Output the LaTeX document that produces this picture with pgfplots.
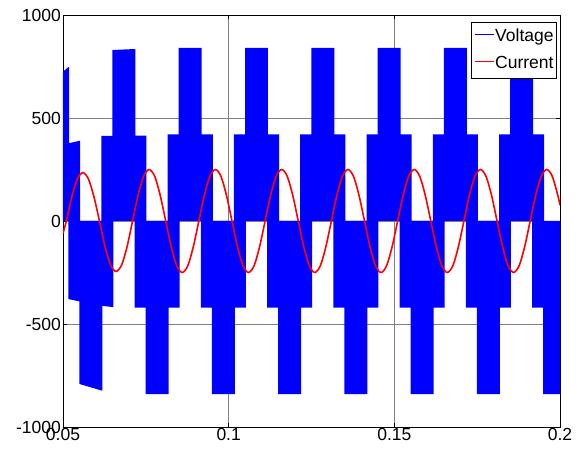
\documentclass[border=0pt]{standalone}
\usepackage{fontspec}
\setmainfont{Liberation Sans}
\usepackage{pgfplots}
\pgfplotsset{compat=1.18}

\begin{document}
\begin{tikzpicture}
\begin{axis}[
    scale only axis,
    width=497pt, height=412pt,
    xmin=0.05, xmax=0.2,
    ymin=-1000, ymax=1000,
    xtick={0.05,0.1,0.15,0.2},
    ytick={-1000,-500,0,500,1000},
    xticklabels={0.05,0.1,0.15,0.2},
    /pgf/number format/assume math mode=true,
    /pgf/number format/1000 sep={},
    tick label style={font=\fontsize{17.5}{20}\selectfont},
    xticklabel style={inner sep=0pt, yshift=-1pt},
    yticklabel style={inner sep=0pt, xshift=-2pt},
    tick align=inside,
    major tick length=4pt,
    tick style={black, line width=0.6pt},
    axis line style={black, line width=0.8pt},
    grid=major,
    major grid style={black!50, line width=0.5pt},
    legend style={
        at={(1,1)}, anchor=north east, xshift=-3pt, yshift=-7pt,
        font=\fontsize{17.5}{20}\selectfont,
        line width=0.8pt,
        inner xsep=1pt, inner ysep=1pt,
        nodes={inner xsep=2pt, inner ysep=5pt, text height=13pt, text depth=4pt},
    },
    legend cell align=left,
]
% voltage, positive half cycles (PWM band from 0 to the level)
\addplot[fill=blue, draw=none, forget plot]
coordinates {
(0.05,0) (0.05,725) (0.05187,750) (0.05187,378) (0.0552,390) (0.0552,0)
(0.0616,0) (0.0616,413) (0.06493,413) (0.06493,830) (0.07187,835) (0.07187,415) (0.0752,415) (0.0752,0)
(0.0816,0) (0.0816,420) (0.08493,420) (0.08493,840) (0.09187,840) (0.09187,420) (0.0952,420) (0.0952,0)
(0.1016,0) (0.1016,420) (0.10493,420) (0.10493,840) (0.11187,840) (0.11187,420) (0.1152,420) (0.1152,0)
(0.1216,0) (0.1216,420) (0.12493,420) (0.12493,840) (0.13187,840) (0.13187,420) (0.1352,420) (0.1352,0)
(0.1416,0) (0.1416,420) (0.14493,420) (0.14493,840) (0.15187,840) (0.15187,420) (0.1552,420) (0.1552,0)
(0.1616,0) (0.1616,420) (0.16493,420) (0.16493,840) (0.17187,840) (0.17187,420) (0.1752,420) (0.1752,0)
(0.1816,0) (0.1816,420) (0.18493,420) (0.18493,840) (0.19187,840) (0.19187,420) (0.1952,420) (0.1952,0)
};

% voltage, negative half cycles
\addplot[fill=blue, draw=none, forget plot]
coordinates {
(0.0516,0) (0.0516,-379) (0.05493,-390) (0.05493,-791) (0.06187,-824) (0.06187,-412) (0.0652,-418) (0.0652,0)
(0.0716,0) (0.0716,-420) (0.07493,-420) (0.07493,-840) (0.08187,-840) (0.08187,-420) (0.0852,-420) (0.0852,0)
(0.0916,0) (0.0916,-420) (0.09493,-420) (0.09493,-840) (0.10187,-840) (0.10187,-420) (0.1052,-420) (0.1052,0)
(0.1116,0) (0.1116,-420) (0.11493,-420) (0.11493,-840) (0.12187,-840) (0.12187,-420) (0.1252,-420) (0.1252,0)
(0.1316,0) (0.1316,-420) (0.13493,-420) (0.13493,-840) (0.14187,-840) (0.14187,-420) (0.1452,-420) (0.1452,0)
(0.1516,0) (0.1516,-420) (0.15493,-420) (0.15493,-840) (0.16187,-840) (0.16187,-420) (0.1652,-420) (0.1652,0)
(0.1716,0) (0.1716,-420) (0.17493,-420) (0.17493,-840) (0.18187,-840) (0.18187,-420) (0.1852,-420) (0.1852,0)
(0.1916,0) (0.1916,-420) (0.19493,-420) (0.19493,-840) (0.2,-840) (0.2,0)
};

% load current
\addplot[red, line width=1.6pt, smooth, forget plot]
table {
t I
0.05 -60
0.051 0
0.05267 118
0.05433 204
0.056 235
0.05767 204
0.05933 118
0.061 0
0.06267 -123
0.06433 -212
0.066 -245
0.06767 -214
0.06933 -125
0.071 0
0.07267 125
0.07433 217
0.076 250
0.07767 217
0.07933 125
0.081 0
0.08267 -125
0.08433 -217
0.086 -250
0.08767 -217
0.08933 -125
0.091 0
0.09267 125
0.09433 217
0.096 250
0.09767 217
0.09933 125
0.101 0
0.10267 -125
0.10433 -217
0.106 -250
0.10767 -217
0.10933 -125
0.111 0
0.11267 125
0.11433 217
0.116 250
0.11767 217
0.11933 125
0.121 0
0.12267 -125
0.12433 -217
0.126 -250
0.12767 -217
0.12933 -125
0.131 0
0.13267 125
0.13433 217
0.136 250
0.13767 217
0.13933 125
0.141 0
0.14267 -125
0.14433 -217
0.146 -250
0.14767 -217
0.14933 -125
0.151 0
0.15267 125
0.15433 217
0.156 250
0.15767 217
0.15933 125
0.161 0
0.16267 -125
0.16433 -217
0.166 -250
0.16767 -217
0.16933 -125
0.171 0
0.17267 125
0.17433 217
0.176 250
0.17767 217
0.17933 125
0.181 0
0.18267 -125
0.18433 -217
0.186 -250
0.18767 -217
0.18933 -125
0.191 0
0.19267 125
0.19433 217
0.196 250
0.19767 217
0.19933 125
0.2 77
};

\addlegendimage{empty legend}
\addlegendentry{\textcolor{blue}{\rule[6pt]{19pt}{1pt}}\hspace{1.5pt}Voltage}
\addlegendimage{empty legend}
\addlegendentry{\textcolor{red}{\rule[6pt]{19pt}{1pt}}\hspace{1.5pt}Current}
\end{axis}
\path ([xshift=-63pt,yshift=-28pt]current axis.south west) rectangle ([xshift=18pt,yshift=15pt]current axis.north east);
\end{tikzpicture}
\end{document}
